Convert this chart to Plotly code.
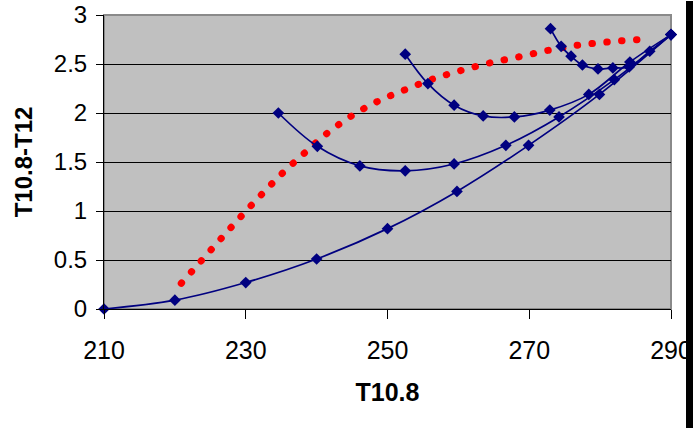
import plotly.graph_objects as go

# Blue arch curves (T10.8, T10.8-T12)
a_x = [210, 220, 230, 240, 250, 259.8, 269.9, 279.9, 290]
a_y = [0.0, 0.09, 0.27, 0.51, 0.82, 1.20, 1.67, 2.19, 2.80]

b_x = [234.6, 240.1, 246.1, 252.5, 259.4, 266.7, 274.2, 282.0, 290]
b_y = [2.00, 1.66, 1.46, 1.41, 1.48, 1.67, 1.96, 2.34, 2.80]

c_x = [252.5, 255.7, 259.4, 263.5, 267.9, 272.9, 278.4, 284.2, 290]
c_y = [2.60, 2.30, 2.08, 1.97, 1.96, 2.03, 2.19, 2.52, 2.80]

d_x = [273.0, 274.5, 275.9, 277.5, 279.7, 281.8, 284.1, 287.0, 290]
d_y = [2.86, 2.68, 2.58, 2.49, 2.45, 2.46, 2.47, 2.63, 2.80]

# Red dotted curve
r_x = [220.9, 223.7, 226.5, 229.3, 232.2, 235.1, 238.3, 241.4, 244.9, 248.5,
       252.4, 256.3, 260.3, 264.4, 268.6, 272.7, 276.8, 281.0, 285.2]
r_y = [0.262, 0.490, 0.717, 0.942, 1.166, 1.381, 1.592, 1.789, 1.969, 2.115,
       2.235, 2.344, 2.432, 2.510, 2.574, 2.640, 2.691, 2.724, 2.748]

x_ticks = [210, 230, 250, 270, 290]
y_ticks = [0, 0.5, 1, 1.5, 2, 2.5, 3]

NAVY = "#000080"
fig = go.Figure()

fig.add_trace(go.Scatter(
    x=r_x, y=r_y, mode="lines",
    line=dict(color="#FF0000", width=7, dash="0.5px,14.5px", shape="spline"),
    showlegend=False, hoverinfo="skip"))

for xs, ys in [(a_x, a_y), (b_x, b_y), (c_x, c_y), (d_x, d_y)]:
    fig.add_trace(go.Scatter(
        x=xs, y=ys, mode="lines+markers",
        line=dict(color=NAVY, width=1.7, shape="spline"),
        marker=dict(symbol="diamond", size=9, color=NAVY),
        showlegend=False, cliponaxis=False))

font = "Arial, Liberation Sans, sans-serif"
fig.update_layout(
    width=693, height=429,
    margin=dict(l=104, r=22, t=15, b=120, autoexpand=False),
    paper_bgcolor="white", plot_bgcolor="#C0C0C0",
    font=dict(family=font, color="black"),
    xaxis=dict(range=[210, 290], tickvals=x_ticks, ticktext=[str(v) for v in x_ticks],
               showgrid=False, zeroline=False, showline=True, linecolor="black",
               linewidth=1, ticks="outside", ticklen=9, tickcolor="black",
               tickfont=dict(size=25), ticklabelstandoff=10, automargin=False,
               title=dict(text="<b>T10.8</b>", font=dict(size=25), standoff=20)),
    yaxis=dict(range=[0, 3], tickvals=y_ticks, ticktext=["0", "0.5", "1", "1.5", "2", "2.5", "3"],
               showgrid=True, gridcolor="black", gridwidth=1, zeroline=False,
               showline=True, linecolor="black", linewidth=1, ticks="outside",
               ticklen=7, tickcolor="black", tickfont=dict(size=24),
               ticklabelstandoff=4, automargin=False,
               title=dict(text="<b>T10.8-T12</b>", font=dict(size=24), standoff=14)),
    shapes=[
        dict(type="rect", xref="paper", yref="paper", x0=0, x1=1, y0=0, y1=1,
             line=dict(color="#8a8a8a", width=2), layer="between"),
        dict(type="rect", xref="paper", yref="paper", x0=(686 - 104) / 567, x1=(693 - 104) / 567,
             y0=-119 / 294, y1=1 + 14 / 294, fillcolor="black", line=dict(width=0),
             layer="above"),
    ],
)

post = """
document.body.style.margin = '0';
document.body.style.padding = '0';
document.body.style.overflow = 'hidden';
var gd = document.getElementById('{plot_id}');
function rc(){
  var p = gd.querySelectorAll('.scatterlayer .trace:first-child .js-line');
  p.forEach(function(e){
    e.style.strokeLinecap = 'round';
    try {
      var L = e.getTotalLength();
      var n = Math.max(1, Math.round((L - 0.5) / 15));
      var per = (L - 0.5) / n;
      e.style.strokeDasharray = '0.5px,' + (per - 0.5) + 'px';
    } catch (err) {}
  });
}
rc();
gd.on('plotly_afterplot', rc);
"""
fig.write_html("out.html", post_script=post, config={"displayModeBar": False})
